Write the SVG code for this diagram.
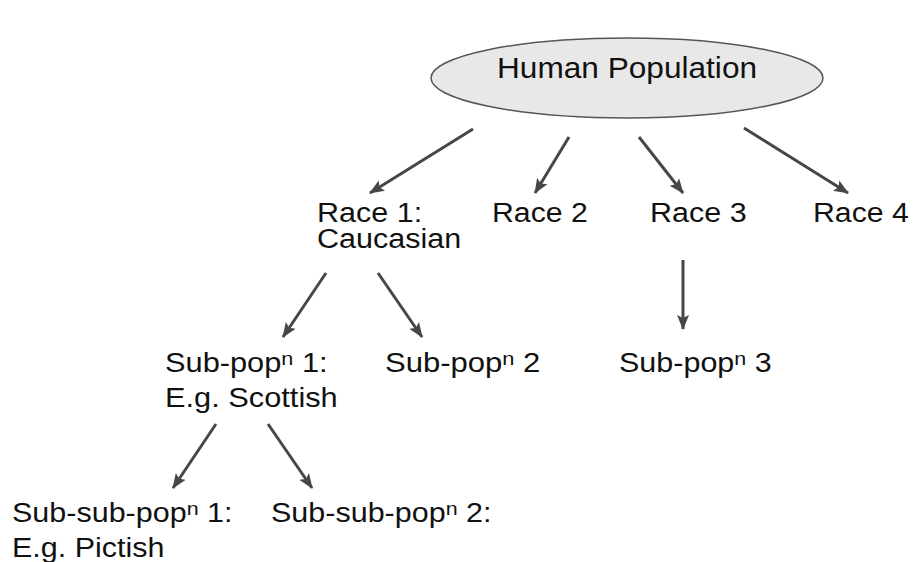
<svg xmlns="http://www.w3.org/2000/svg" width="913" height="562" viewBox="0 0 913 562">
<defs>
<style>
.t{font-family:"Liberation Sans",Arial,Helvetica,sans-serif;font-size:27px;fill:#111}
.sup{font-size:19px}
.c line{stroke:#474747;stroke-width:3;marker-end:url(#ah)}
</style>
<marker id="ah" markerUnits="userSpaceOnUse" markerWidth="16" markerHeight="14" refX="14" refY="6" orient="auto" viewBox="0 0 16 12">
<path d="M0,0 L15,6 L0,12 L3,6 z" fill="#474747"/>
</marker>
</defs>
<rect width="913" height="562" fill="#fff"/>
<g id="root">
<ellipse cx="627" cy="78" rx="196" ry="40" fill="#e8e8e8" stroke="#555" stroke-width="1.5"/>
<text class="t" style="font-size:29px" transform="translate(497 78) scale(1.09 1)">Human Population</text>
</g>
<g id="race1"><text class="t" transform="translate(317 222) scale(1.13 1)">Race 1:<tspan x="0" dy="26">Caucasian</tspan></text></g>
<g id="race2"><text class="t" transform="translate(492 222) scale(1.12 1)">Race 2</text></g>
<g id="race3"><text class="t" transform="translate(650 222) scale(1.13 1)">Race 3</text></g>
<g id="race4"><text class="t" transform="translate(813 222) scale(1.12 1)">Race 4</text></g>
<g id="sub1"><text class="t" transform="translate(165 372) scale(1.14 1)">Sub-pop<tspan class="sup" dy="-7">n</tspan><tspan dy="7"> 1:</tspan><tspan x="0" dy="35">E.g. Scottish</tspan></text></g>
<g id="sub2"><text class="t" transform="translate(385 372) scale(1.15 1)">Sub-pop<tspan class="sup" dy="-7">n</tspan><tspan dy="7"> 2</tspan></text></g>
<g id="sub3"><text class="t" transform="translate(619 372) scale(1.13 1)">Sub-pop<tspan class="sup" dy="-7">n</tspan><tspan dy="7"> 3</tspan></text></g>
<g id="subsub1"><text class="t" transform="translate(12 522) scale(1.13 1)">Sub-sub-pop<tspan class="sup" dy="-7">n</tspan><tspan dy="7"> 1:</tspan><tspan x="0" dy="35">E.g. Pictish</tspan></text></g>
<g id="subsub2"><text class="t" transform="translate(271 522) scale(1.13 1)">Sub-sub-pop<tspan class="sup" dy="-7">n</tspan><tspan dy="7"> 2:</tspan></text></g>
<g id="connectors" class="c">
<line x1="473" y1="129" x2="370" y2="193"/>
<line x1="569" y1="137" x2="535" y2="193"/>
<line x1="639" y1="137" x2="683" y2="193"/>
<line x1="744" y1="128" x2="848" y2="193"/>
<line x1="326" y1="273" x2="283" y2="337"/>
<line x1="378" y1="273" x2="422" y2="337"/>
<line x1="683" y1="260" x2="683" y2="329"/>
<line x1="216" y1="424" x2="173" y2="488"/>
<line x1="268" y1="424" x2="312" y2="488"/>
</g>
</svg>
